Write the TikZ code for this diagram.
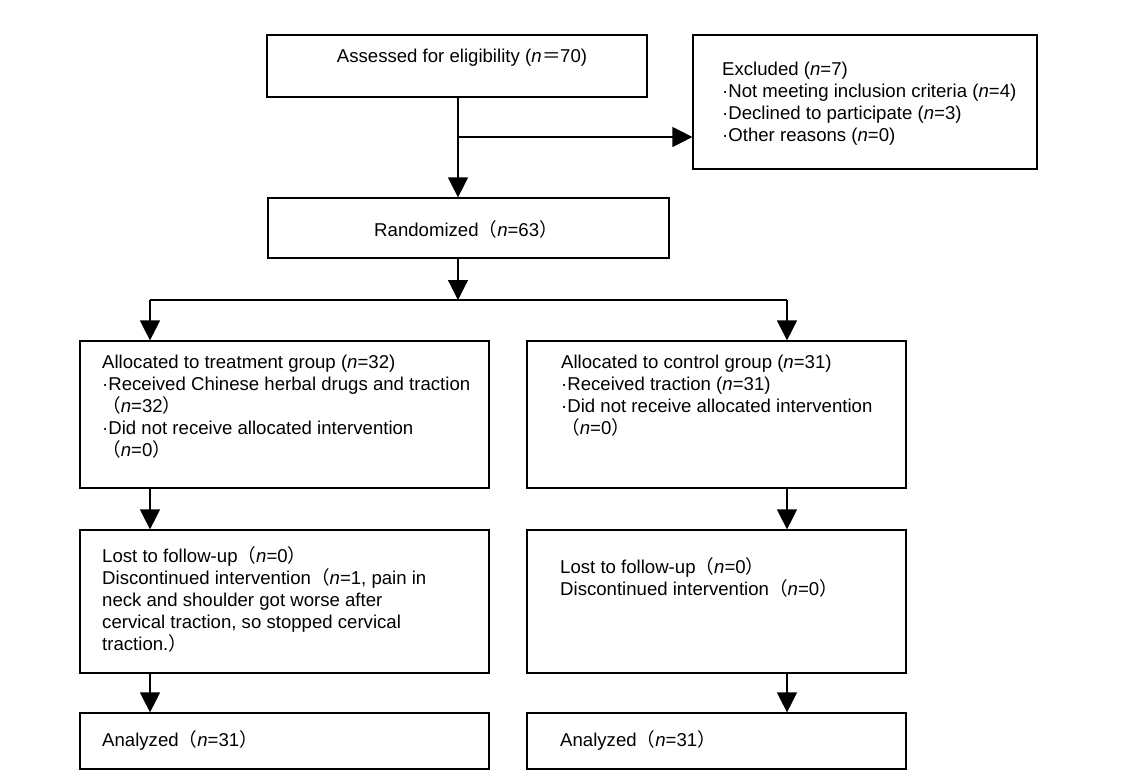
\documentclass[tikz,border=0pt]{standalone}
\usepackage{fontspec}
\setmainfont{Liberation Sans}
\newfontfamily\cjk{Noto Sans CJK SC}
\usetikzlibrary{arrows.meta}
\newcommand\LP{{\cjk （}}
\newcommand\RP{{\cjk ）}}
\newcommand\EQ{{\kern0.5pt\cjk ＝\kern-0.5pt}}
\newcommand\nn{\textit{n}}
\begin{document}
\begin{tikzpicture}[x=1pt,y=-1pt,
  box/.style={draw, line width=1.2pt, inner sep=0pt},
  txt/.style={anchor=base west, align=left, inner sep=0pt, font=\fontsize{18.6}{22}\selectfont},
  ctxt/.style={anchor=base, inner sep=0pt, font=\fontsize{18.6}{22}\selectfont},
  arr/.style={line width=1.2pt, -{Triangle[length=20pt,width=20pt]}},
  ln/.style={line width=1.2pt}]
\useasboundingbox (0,0) rectangle (1127,782);
% boxes
\node[box, minimum width=380pt, minimum height=62pt] (assess) at (457,66) {};
\node[box, minimum width=344pt, minimum height=134pt] (excl) at (865,102) {};
\node[box, minimum width=401pt, minimum height=60pt] (rand) at (468.5,228) {};
\node[box, minimum width=409pt, minimum height=147pt] (treat) at (284.5,414.5) {};
\node[box, minimum width=379pt, minimum height=147pt] (ctrl) at (716.5,414.5) {};
\node[box, minimum width=409pt, minimum height=143pt] (fu1) at (284.5,601.5) {};
\node[box, minimum width=379pt, minimum height=143pt] (fu2) at (716.5,601.5) {};
\node[box, minimum width=409pt, minimum height=56pt] (an1) at (284.5,741) {};
\node[box, minimum width=379pt, minimum height=56pt] (an2) at (716.5,741) {};
% texts (base = baseline of last line)
\node[ctxt] (tassess) at (462,62) {Assessed for eligibility (\nn\EQ70)};
\node[txt] (texcl) at (722,141) {Excluded (\nn=7)\\ ·Not meeting inclusion criteria (\nn=4)\\ ·Declined to participate (\nn=3)\\ ·Other reasons (\nn=0)};
\node[ctxt] (trand) at (466,236) {Randomized\LP\nn=63\RP};
\node[txt] (ttreat) at (102,456) {Allocated to treatment group (\nn=32)\\ ·Received Chinese herbal drugs and traction\\ \LP\nn=32\RP\\ ·Did not receive allocated intervention\\ \LP\nn=0\RP};
\node[txt] (tctrl) at (561,434) {Allocated to control group (\nn=31)\\ ·Received traction (\nn=31)\\ ·Did not receive allocated intervention\\ \LP\nn=0\RP};
\node[txt] (tfu1) at (102,650) {Lost to follow-up\LP\nn=0\RP\\ Discontinued intervention\LP\nn=1, pain in\\ neck and shoulder got worse after\\ cervical traction, so stopped cervical\\ traction.\RP};
\node[txt] (tfu2) at (560,595) {Lost to follow-up\LP\nn=0\RP\\ Discontinued intervention\LP\nn=0\RP};
\node[txt] (tan1) at (102,746) {Analyzed\LP\nn=31\RP};
\node[txt] (tan2) at (560,746) {Analyzed\LP\nn=31\RP};
% connectors
\coordinate (cx) at (458,0);
\coordinate (j1) at (458,137);
\draw[arr] (assess.south -| cx) -- (rand.north -| cx);
\draw[arr] (j1) -- (j1 -| excl.west);
\coordinate (j2) at (458,300);
\coordinate (jl) at (150,300);
\coordinate (jr) at (787,300);
\draw[arr] (rand.south -| j2) -- (j2);
\draw[ln] (jl) -- (jr);
\draw[arr] (jl) -- (jl |- treat.north);
\draw[arr] (jr) -- (jr |- ctrl.north);
\draw[arr] (treat.south -| jl) -- (fu1.north -| jl);
\draw[arr] (ctrl.south -| jr) -- (fu2.north -| jr);
\draw[arr] (fu1.south -| jl) -- (an1.north -| jl);
\draw[arr] (fu2.south -| jr) -- (an2.north -| jr);
\end{tikzpicture}
\end{document}
